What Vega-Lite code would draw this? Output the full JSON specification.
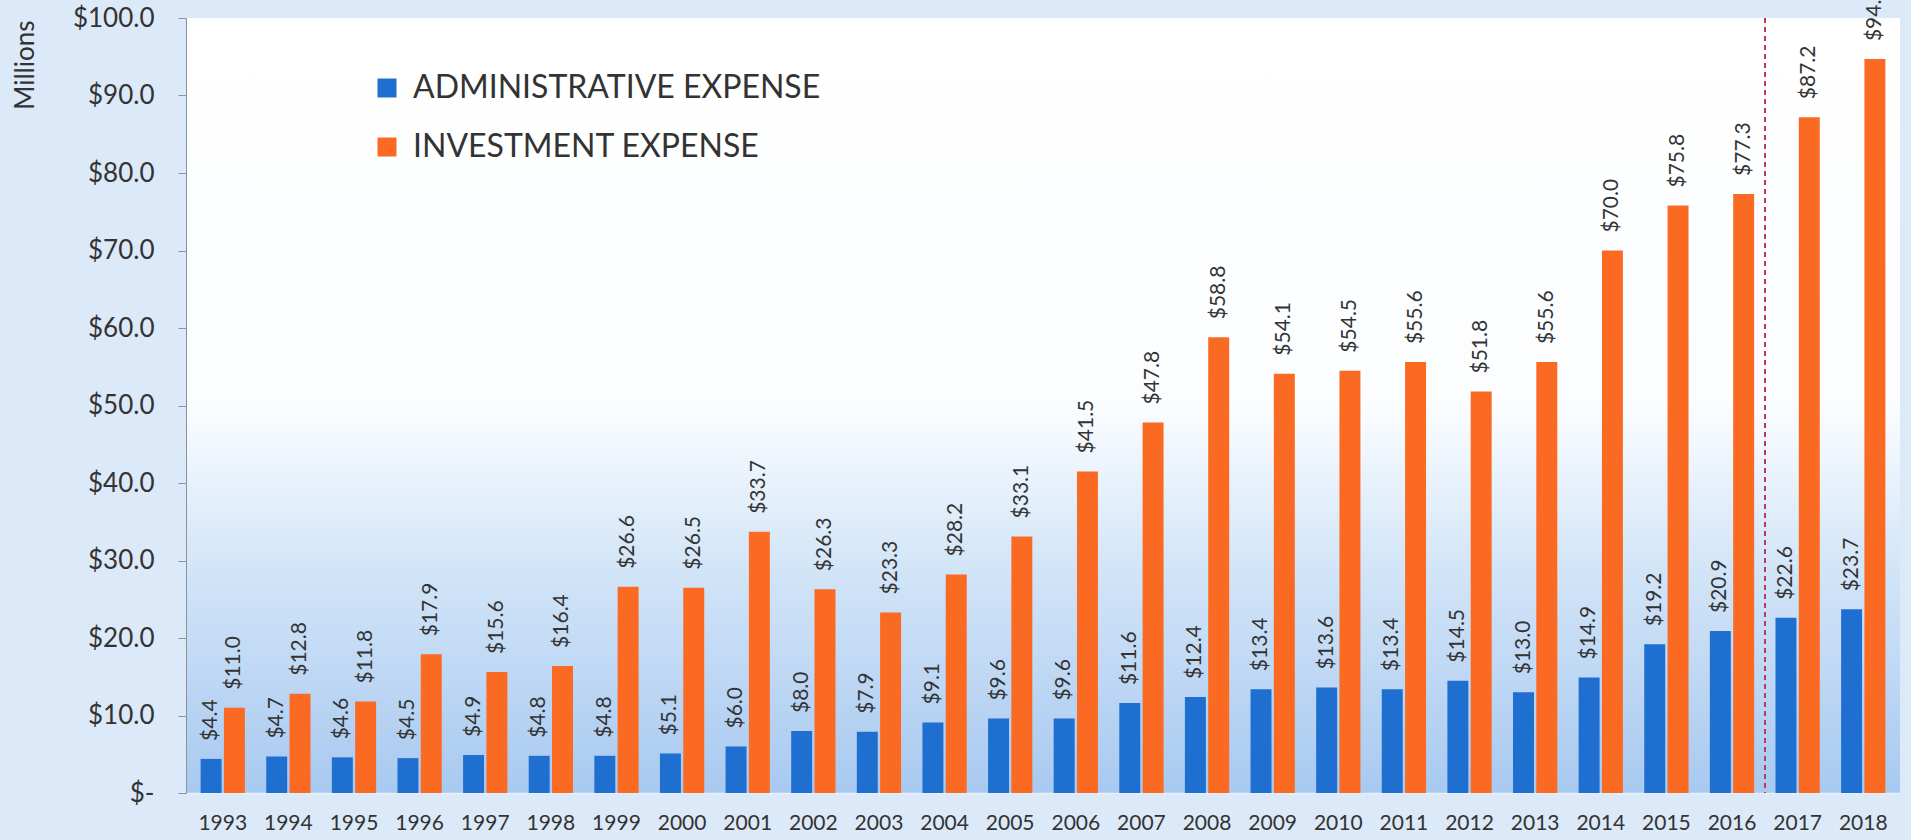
{
  "$schema": "https://vega.github.io/schema/vega-lite/v6.json",
  "autosize": {"type": "none"},
  "padding": {"left": 186, "top": 18, "right": 11, "bottom": 47},
  "width": 1714,
  "height": 775,
  "background": "#dce9f8",
  "config": {
    "font": "Lato",
    "view": {
      "stroke": null,
      "fill": {
        "gradient": "linear", "x1": 0, "y1": 0, "x2": 0, "y2": 1,
        "stops": [
          {"offset": 0, "color": "#ffffff"},
          {"offset": 0.5, "color": "#fbfdff"},
          {"offset": 0.7, "color": "#d4e6f8"},
          {"offset": 1, "color": "#a8c9f0"}
        ]
      }
    }
  },
  "data": {
    "values": [
      {"year": "1993", "series": "ADMINISTRATIVE EXPENSE", "value": 4.4},
      {"year": "1993", "series": "INVESTMENT EXPENSE", "value": 11.0},
      {"year": "1994", "series": "ADMINISTRATIVE EXPENSE", "value": 4.7},
      {"year": "1994", "series": "INVESTMENT EXPENSE", "value": 12.8},
      {"year": "1995", "series": "ADMINISTRATIVE EXPENSE", "value": 4.6},
      {"year": "1995", "series": "INVESTMENT EXPENSE", "value": 11.8},
      {"year": "1996", "series": "ADMINISTRATIVE EXPENSE", "value": 4.5},
      {"year": "1996", "series": "INVESTMENT EXPENSE", "value": 17.9},
      {"year": "1997", "series": "ADMINISTRATIVE EXPENSE", "value": 4.9},
      {"year": "1997", "series": "INVESTMENT EXPENSE", "value": 15.6},
      {"year": "1998", "series": "ADMINISTRATIVE EXPENSE", "value": 4.8},
      {"year": "1998", "series": "INVESTMENT EXPENSE", "value": 16.4},
      {"year": "1999", "series": "ADMINISTRATIVE EXPENSE", "value": 4.8},
      {"year": "1999", "series": "INVESTMENT EXPENSE", "value": 26.6},
      {"year": "2000", "series": "ADMINISTRATIVE EXPENSE", "value": 5.1},
      {"year": "2000", "series": "INVESTMENT EXPENSE", "value": 26.5},
      {"year": "2001", "series": "ADMINISTRATIVE EXPENSE", "value": 6.0},
      {"year": "2001", "series": "INVESTMENT EXPENSE", "value": 33.7},
      {"year": "2002", "series": "ADMINISTRATIVE EXPENSE", "value": 8.0},
      {"year": "2002", "series": "INVESTMENT EXPENSE", "value": 26.3},
      {"year": "2003", "series": "ADMINISTRATIVE EXPENSE", "value": 7.9},
      {"year": "2003", "series": "INVESTMENT EXPENSE", "value": 23.3},
      {"year": "2004", "series": "ADMINISTRATIVE EXPENSE", "value": 9.1},
      {"year": "2004", "series": "INVESTMENT EXPENSE", "value": 28.2},
      {"year": "2005", "series": "ADMINISTRATIVE EXPENSE", "value": 9.6},
      {"year": "2005", "series": "INVESTMENT EXPENSE", "value": 33.1},
      {"year": "2006", "series": "ADMINISTRATIVE EXPENSE", "value": 9.6},
      {"year": "2006", "series": "INVESTMENT EXPENSE", "value": 41.5},
      {"year": "2007", "series": "ADMINISTRATIVE EXPENSE", "value": 11.6},
      {"year": "2007", "series": "INVESTMENT EXPENSE", "value": 47.8},
      {"year": "2008", "series": "ADMINISTRATIVE EXPENSE", "value": 12.4},
      {"year": "2008", "series": "INVESTMENT EXPENSE", "value": 58.8},
      {"year": "2009", "series": "ADMINISTRATIVE EXPENSE", "value": 13.4},
      {"year": "2009", "series": "INVESTMENT EXPENSE", "value": 54.1},
      {"year": "2010", "series": "ADMINISTRATIVE EXPENSE", "value": 13.6},
      {"year": "2010", "series": "INVESTMENT EXPENSE", "value": 54.5},
      {"year": "2011", "series": "ADMINISTRATIVE EXPENSE", "value": 13.4},
      {"year": "2011", "series": "INVESTMENT EXPENSE", "value": 55.6},
      {"year": "2012", "series": "ADMINISTRATIVE EXPENSE", "value": 14.5},
      {"year": "2012", "series": "INVESTMENT EXPENSE", "value": 51.8},
      {"year": "2013", "series": "ADMINISTRATIVE EXPENSE", "value": 13.0},
      {"year": "2013", "series": "INVESTMENT EXPENSE", "value": 55.6},
      {"year": "2014", "series": "ADMINISTRATIVE EXPENSE", "value": 14.9},
      {"year": "2014", "series": "INVESTMENT EXPENSE", "value": 70.0},
      {"year": "2015", "series": "ADMINISTRATIVE EXPENSE", "value": 19.2},
      {"year": "2015", "series": "INVESTMENT EXPENSE", "value": 75.8},
      {"year": "2016", "series": "ADMINISTRATIVE EXPENSE", "value": 20.9},
      {"year": "2016", "series": "INVESTMENT EXPENSE", "value": 77.3},
      {"year": "2017", "series": "ADMINISTRATIVE EXPENSE", "value": 22.6},
      {"year": "2017", "series": "INVESTMENT EXPENSE", "value": 87.2},
      {"year": "2018", "series": "ADMINISTRATIVE EXPENSE", "value": 23.7},
      {"year": "2018", "series": "INVESTMENT EXPENSE", "value": 94.7}
    ]
  },
  "encoding": {
    "x": {
      "field": "year", "type": "nominal", "sort": null,
      "scale": {"paddingInner": 0, "paddingOuter": 0.06},
      "axis": {
        "title": null, "labelAngle": 0, "ticks": false,
        "domain": true, "domainColor": "#e6f0fb", "domainWidth": 1.5,
        "labelFontSize": 21, "labelColor": "#333333", "labelPadding": 19,
        "labelFont": "Lato"
      }
    },
    "xOffset": {
      "field": "series", "type": "nominal",
      "scale": {"paddingInner": 0.1, "paddingOuter": 0.458}
    },
    "y": {
      "field": "value", "type": "quantitative",
      "scale": {"domain": [0, 100], "nice": false},
      "axis": {
        "title": "Millions", "titleFontSize": 26, "titleFontWeight": "normal",
        "titleColor": "#333333", "titleAngle": -90, "titleAlign": "right",
        "titleBaseline": "middle", "titleX": -161, "titleY": 2,
        "values": [0, 10, 20, 30, 40, 50, 60, 70, 80, 90, 100],
        "labelExpr": "datum.value == 0 ? '$-' : '$' + format(datum.value, '.1f')",
        "labelFontSize": 26, "labelColor": "#333333", "labelPadding": 24,
        "tickSize": 8, "tickColor": "#8a929c", "domainColor": "#8a929c",
        "grid": false
      }
    }
  },
  "layer": [
    {
      "mark": {"type": "bar"},
      "encoding": {
        "color": {
          "field": "series", "type": "nominal",
          "scale": {"domain": ["ADMINISTRATIVE EXPENSE", "INVESTMENT EXPENSE"], "range": ["#1f6fd1", "#fb6a22"]},
          "legend": {
            "title": null, "orient": "none", "legendX": 185, "legendY": 54,
            "symbolType": "square", "symbolSize": 361, "symbolStrokeWidth": 0,
            "labelFontSize": 32, "labelColor": "#333333", "labelOffset": 10,
            "rowPadding": 27, "labelFont": "Lato", "labelLimit": 800
          }
        }
      }
    },
    {
      "mark": {"type": "text", "angle": -90, "align": "left", "baseline": "middle", "dx": 18, "fontSize": 21, "color": "#333333"},
      "encoding": {
        "text": {"field": "value", "type": "quantitative", "format": "$.1f"}
      }
    },
    {
      "mark": {"type": "rule", "color": "#c0395a", "strokeDash": [5, 4], "strokeWidth": 1.5},
      "encoding": {
        "x": {"datum": "2017", "bandPosition": 0},
        "xOffset": null,
        "y": null
      }
    }
  ]
}
